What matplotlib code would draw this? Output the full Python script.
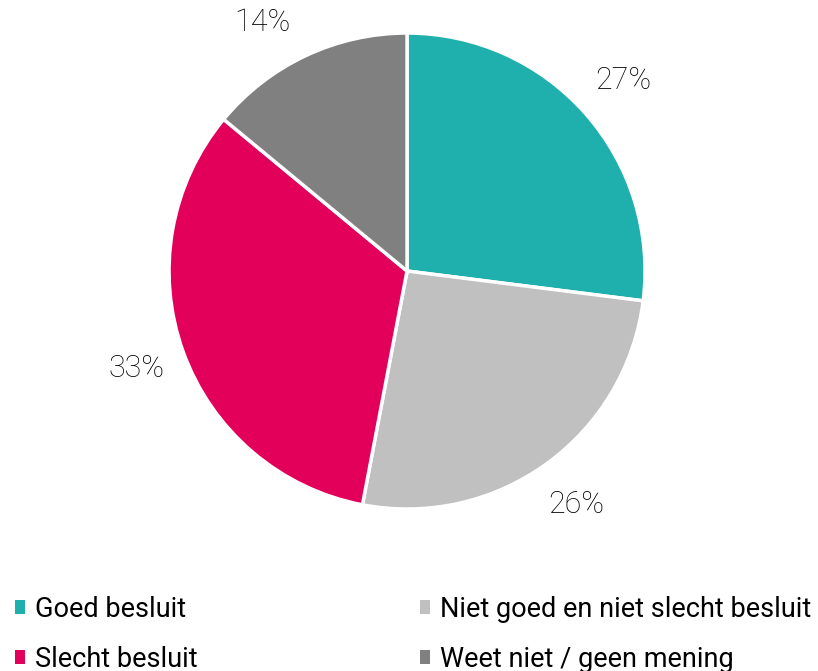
import numpy as np
import matplotlib.pyplot as plt
from matplotlib.patches import Patch

categories = ["Goed besluit", "Niet goed en niet slecht besluit",
              "Slecht besluit", "Weet niet / geen mening"]
shares = [27, 26, 33, 14]
colors = ["#1FB0AE", "#C0C0C0", "#E3005A", "#808080"]

plt.rcParams['font.family'] = ['Roboto', 'DejaVu Sans']

fig = plt.figure(figsize=(8.18, 6.71), dpi=100)
ax = fig.add_axes([0.2066, 0.2414, 0.582, 0.7094])

label_dist = 1.21
wedges, texts = ax.pie(
    shares, colors=colors, startangle=90, counterclock=False,
    labels=[f"{v}%" for v in shares], labeldistance=label_dist,
    wedgeprops=dict(edgecolor="white", linewidth=2.5),
    textprops=dict(fontsize=22, fontweight="light", color="black"),
)
# keep labels inside the canvas: slide a label along its circle if it
# would stick out over the top edge
y_max = 1.046
for t in texts:
    t.set_horizontalalignment("center")
    t.set_verticalalignment("center")
    t.set_clip_on(False)
    x, y = t.get_position()
    if y > y_max:
        ang = np.arcsin(y_max / label_dist)
        t.set_position((np.sign(x) * label_dist * np.cos(ang), y_max))
ax.set_xlim(-1, 1)
ax.set_ylim(-1, 1)
ax.set_aspect("equal")

# two legend columns below the pie
handles = [Patch(facecolor=c, edgecolor="none") for c in colors]
leg_kw = dict(loc="upper left", frameon=False, fontsize=19.5,
              handlelength=0.38, handleheight=0.38, handletextpad=0.38,
              labelspacing=0.84, borderaxespad=0, borderpad=0)
fig.legend([handles[0], handles[2]], [categories[0], categories[2]],
           bbox_to_anchor=(0.018, 0.112), **leg_kw)
fig.legend([handles[1], handles[3]], [categories[1], categories[3]],
           bbox_to_anchor=(0.513, 0.112), **leg_kw)

fig.savefig("out.png", dpi=100)
